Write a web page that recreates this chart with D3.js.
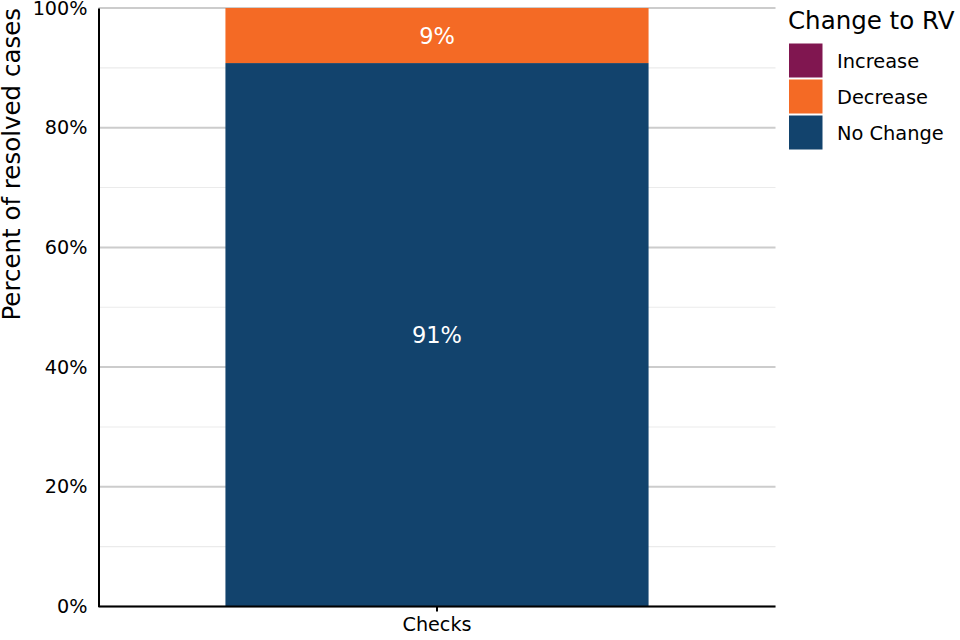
<!DOCTYPE html>
<html>
<head>
<meta charset="utf-8">
<script src="https://cdn.jsdelivr.net/npm/d3@7"></script>
<style>
  html, body { margin: 0; padding: 0; background: #fff; }
  svg { display: block; font-family: "DejaVu Sans", sans-serif; }
</style>
</head>
<body>
<svg id="chart" width="960" height="640"></svg>
<script>
// ---- data ----
const categories = ["Checks"];
const seriesNames = ["Increase", "Decrease", "No Change"];   // legend order (top to bottom)
const stackOrder = ["No Change", "Decrease", "Increase"];     // bottom to top
const noChangeValues = [90.8];
const decreaseValues = [9.2];
const increaseValues = [0];
const barLabelsNoChange = ["91%"];
const barLabelsDecrease = ["9%"];
const yTickValues = [0, 20, 40, 60, 80, 100];
const yMinorTickValues = [10, 30, 50, 70, 90];
const legendTitle = "Change to RV";
const yTitle = "Percent of resolved cases";
const colors = { "Increase": "#801650", "Decrease": "#F46A25", "No Change": "#12436D" };

const rows = categories.map((c, i) => ({
  category: c,
  "No Change": noChangeValues[i],
  "Decrease": decreaseValues[i],
  "Increase": increaseValues[i]
}));
const labelMap = { "No Change": barLabelsNoChange, "Decrease": barLabelsDecrease, "Increase": [] };

// ---- layout ----
const svg = d3.select("#chart");
const plot = { left: 98.5, right: 775.5, top: 8, bottom: 606.5 };

const x = d3.scaleBand().domain(categories).range([plot.left, plot.right])
  .paddingInner(0).paddingOuter(0.3);
const y = d3.scaleLinear().domain([0, 100]).range([plot.bottom, plot.top]);

// grid
svg.append("g").selectAll("line.minor").data(yMinorTickValues).join("line")
  .attr("x1", plot.left).attr("x2", plot.right)
  .attr("y1", d => y(d)).attr("y2", d => y(d))
  .attr("stroke", "#ebebeb").attr("stroke-width", 1.1);
svg.append("g").selectAll("line.major").data(yTickValues).join("line")
  .attr("x1", plot.left).attr("x2", plot.right)
  .attr("y1", d => y(d)).attr("y2", d => y(d))
  .attr("stroke", "#cccccc").attr("stroke-width", 2);

// stacked bars
const stack = d3.stack().keys(stackOrder);
const layers = stack(rows);
const barG = svg.append("g");
layers.forEach(layer => {
  barG.selectAll(null).data(layer).join("rect")
    .attr("x", d => x(d.data.category))
    .attr("width", x.bandwidth())
    .attr("y", d => y(d[1]))
    .attr("height", d => y(d[0]) - y(d[1]))
    .attr("fill", colors[layer.key]);
  const labs = labelMap[layer.key];
  barG.selectAll(null).data(layer.filter((d, i) => labs[i])).join("text")
    .attr("x", d => x(d.data.category) + x.bandwidth() / 2)
    .attr("y", d => (y(d[0]) + y(d[1])) / 2)
    .attr("dy", "0.36em")
    .attr("text-anchor", "middle")
    .attr("fill", "#ffffff")
    .attr("font-size", "22.5px")
    .text((d, i) => labs[rows.indexOf(d.data)]);
});

// y axis
const yAxis = d3.axisLeft(y).tickValues(yTickValues).tickFormat(d => d + "%").tickSize(0).tickPadding(11);
const yg = svg.append("g").attr("transform", `translate(${plot.left},0)`).call(yAxis);
yg.select(".domain").attr("stroke", "#000").attr("stroke-width", 2);
yg.selectAll("text").attr("font-size", "19.2px").attr("fill", "#000")
  .attr("font-family", "DejaVu Sans, sans-serif");

// x axis
const xAxis = d3.axisBottom(x).tickSize(5).tickPadding(6);
const xg = svg.append("g").attr("transform", `translate(0,${plot.bottom})`).call(xAxis);
xg.select(".domain").attr("stroke", "#000").attr("stroke-width", 2)
  .attr("d", `M${plot.left},0H${plot.right}`);
xg.selectAll(".tick line").attr("stroke", "#000").attr("stroke-width", 2);
xg.selectAll("text").attr("font-size", "19.2px").attr("fill", "#000")
  .attr("font-family", "DejaVu Sans, sans-serif");

// y title
svg.append("text")
  .attr("transform", `translate(20,${plot.top}) rotate(-90)`)
  .attr("text-anchor", "end")
  .attr("font-size", "24.5px")
  .attr("fill", "#000")
  .text(yTitle);

// legend
const lg = svg.append("g");
lg.append("text").attr("x", 788).attr("y", 28.5)
  .attr("font-size", "24.5px").attr("fill", "#000").text(legendTitle);
const keyItems = lg.selectAll("g.key").data(seriesNames).join("g")
  .attr("transform", (d, i) => `translate(789,${43.5 + i * 36})`);
keyItems.append("rect").attr("width", 33.5).attr("height", 34)
  .attr("fill", d => colors[d]);
keyItems.append("text").attr("x", 48).attr("y", 18).attr("dy", "0.36em")
  .attr("font-size", "19.4px").attr("fill", "#000").text(d => d);
</script>
</body>
</html>
